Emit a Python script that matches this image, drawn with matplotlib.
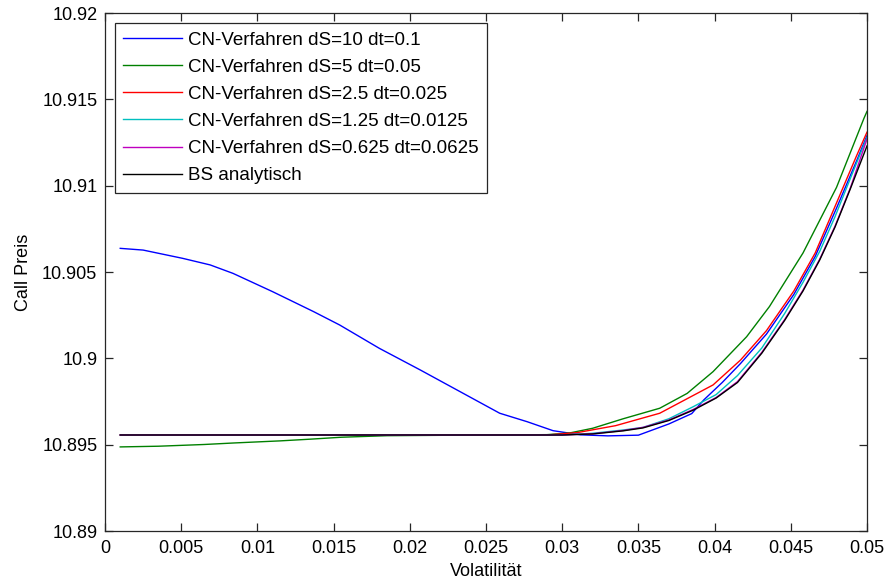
import matplotlib
matplotlib.use("Agg")
import matplotlib.pyplot as plt

plt.rcParams['font.family'] = ['Liberation Sans', 'DejaVu Sans']

# CN-Verfahren dS=10 dt=0.1
vol_blue = [0.001, 0.0025, 0.0051, 0.0069, 0.0084, 0.011, 0.0137, 0.0154, 0.018, 0.0207,
            0.0233, 0.0259, 0.0277, 0.0294, 0.0312, 0.033, 0.035, 0.037, 0.0385, 0.0393,
            0.0405, 0.0417, 0.0434, 0.0452, 0.0466, 0.048, 0.0493, 0.05]
price_blue = [10.90637, 10.90627, 10.90579, 10.90541, 10.90492, 10.90386, 10.9027, 10.90193, 10.90058, 10.89932,
              10.89807, 10.89682, 10.89633, 10.89581, 10.89557, 10.89551, 10.89555, 10.8962, 10.8968, 10.8976,
              10.8986, 10.8997, 10.9014, 10.9037, 10.9059, 10.9087, 10.9114, 10.9129]

# CN-Verfahren dS=5 dt=0.05
vol_green = [0.001, 0.0035, 0.0065, 0.0085, 0.0115, 0.0135, 0.0155, 0.0185, 0.025, 0.029,
             0.0305, 0.032, 0.034, 0.0364, 0.0382, 0.0399, 0.0421, 0.0436, 0.0458, 0.048,
             0.0498, 0.05]
price_green = [10.89487, 10.89491, 10.89501, 10.8951, 10.89522, 10.89532, 10.89543, 10.89552, 10.89556, 10.89558,
               10.89568, 10.89595, 10.8965, 10.89711, 10.89797, 10.89923, 10.90125, 10.9030, 10.9061, 10.9099,
               10.9139, 10.9143]

# CN-Verfahren dS=2.5 dt=0.025
vol_red = [0.001, 0.029, 0.031, 0.0335, 0.0364, 0.0399, 0.0417, 0.0434, 0.0452, 0.0466,
           0.048, 0.0493, 0.05]
price_red = [10.89556, 10.89556, 10.8957, 10.8961, 10.89682, 10.89846, 10.8999, 10.9016, 10.9039, 10.9061,
             10.909, 10.9117, 10.9131]

# CN-Verfahren dS=1.25 dt=0.0125
vol_cyan = [0.001, 0.03, 0.032, 0.034, 0.0353, 0.037, 0.0386, 0.0401, 0.0415, 0.0431,
            0.0446, 0.0458, 0.0469, 0.0479, 0.0489, 0.05]
price_cyan = [10.89556, 10.89556, 10.89566, 10.89585, 10.896, 10.8965, 10.8972, 10.8979, 10.899, 10.9006,
              10.9026, 10.9044, 10.9062, 10.9082, 10.9104, 10.9128]

# CN-Verfahren dS=0.625 dt=0.0625
vol_magenta = [0.001, 0.03, 0.032, 0.034, 0.0353, 0.037, 0.0386, 0.0401, 0.0415, 0.0431,
               0.0446, 0.0458, 0.0469, 0.0479, 0.0489, 0.05]
price_magenta = [10.89556, 10.89556, 10.89563, 10.89582, 10.896, 10.89643, 10.89704, 10.89773, 10.89865, 10.90035,
                 10.90225, 10.90395, 10.90575, 10.90765, 10.90985, 10.9127]

# BS analytisch
vol_bs = [0.001, 0.03, 0.032, 0.034, 0.0353, 0.037, 0.0386, 0.0401, 0.0415, 0.0431,
          0.0446, 0.0458, 0.0469, 0.0479, 0.0489, 0.05]
price_bs = [10.89556, 10.89556, 10.89562, 10.8958, 10.89597, 10.8964, 10.897, 10.8977, 10.8986, 10.9003,
            10.9022, 10.9039, 10.9057, 10.9076, 10.9098, 10.9123]

labels = ['CN-Verfahren dS=10 dt=0.1', 'CN-Verfahren dS=5 dt=0.05', 'CN-Verfahren dS=2.5 dt=0.025',
          'CN-Verfahren dS=1.25 dt=0.0125', 'CN-Verfahren dS=0.625 dt=0.0625', 'BS analytisch']
colors = ['#0000ff', '#008000', '#ff0000', '#00bfbf', '#bf00bf', '#000000']

xticks = [0, 0.005, 0.01, 0.015, 0.02, 0.025, 0.03, 0.035, 0.04, 0.045, 0.05]
xticklabels = ['0', '0.005', '0.01', '0.015', '0.02', '0.025', '0.03', '0.035', '0.04', '0.045', '0.05']
yticks = [10.89, 10.895, 10.9, 10.905, 10.91, 10.915, 10.92]
yticklabels = ['10.89', '10.895', '10.9', '10.905', '10.91', '10.915', '10.92']

fig = plt.figure(figsize=(8.87, 5.83), dpi=100)
ax = fig.add_axes([105 / 887, 52 / 583, 762 / 887, 518 / 583])

series = [(vol_blue, price_blue), (vol_green, price_green), (vol_red, price_red),
          (vol_cyan, price_cyan), (vol_magenta, price_magenta), (vol_bs, price_bs)]
for (xs, ys), lab, col in zip(series, labels, colors):
    ax.plot(xs, ys, color=col, lw=1.0, label=lab)

ax.set_xlim(0, 0.05)
ax.set_ylim(10.89, 10.92)
ax.set_xticks(xticks)
ax.set_xticklabels(xticklabels)
ax.set_yticks(yticks)
ax.set_yticklabels(yticklabels)
ax.tick_params(direction='in', length=5.5, width=0.9, top=True, right=True,
               labelsize=13, colors='#262626', labelcolor='black')
ax.tick_params(axis='x', pad=6.5)
ax.tick_params(axis='y', pad=5.5)
for sp in ax.spines.values():
    sp.set_color('#262626')
    sp.set_linewidth(0.9)

ax.set_xlabel('Volatilität', fontsize=13, labelpad=4)
ax.set_ylabel('Call Preis', fontsize=13, labelpad=7.5)

leg = ax.legend(loc='upper left', bbox_to_anchor=(10 / 762, 507.7 / 518), borderaxespad=0,
                fontsize=13.5, handlelength=3.15, handletextpad=0.28, labelspacing=0.53,
                borderpad=0.45, fancybox=False, framealpha=1, edgecolor='#262626')
leg.get_frame().set_linewidth(0.9)

fig.savefig('out.png', dpi=100)
